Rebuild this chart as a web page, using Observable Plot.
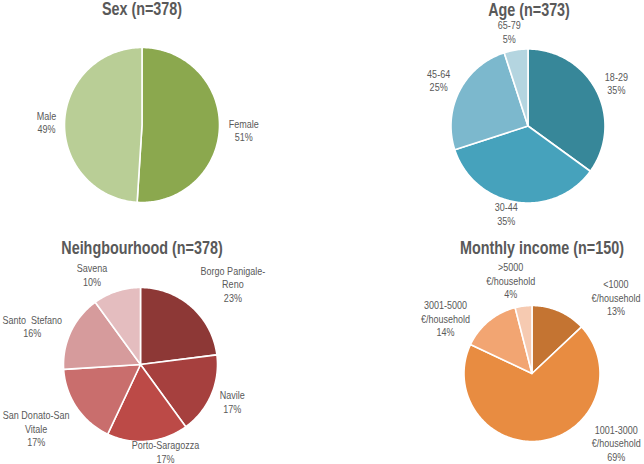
<!DOCTYPE html>
<html>
<head>
<meta charset="utf-8">
<script src="https://cdn.jsdelivr.net/npm/d3@7"></script>
<script src="https://cdn.jsdelivr.net/npm/@observablehq/plot@0.6"></script>
<style>
  html, body { margin: 0; padding: 0; background: #fff; }
  #root { position: relative; width: 644px; height: 464px; overflow: hidden; }
  .panel { position: absolute; width: 322px; height: 232px; }
  .panel svg { overflow: visible; }
  .title { position: absolute; font-family: "Liberation Sans", Arial, sans-serif;
           font-weight: bold; font-size: 17.5px; color: #595959; white-space: nowrap;
           transform: translateX(-50%) scaleX(0.82); line-height: 1; }
</style>
</head>
<body>
<div id="root"></div>
<script>
// ---------------- DATA ----------------
const sexCategories = ["Female", "Male"];
const sexValues = [51, 49];

const ageCategories = ["18-29", "30-44", "45-64", "65-79"];
const ageValues = [35, 35, 25, 5];

const hoodCategories = ["Borgo Panigale-\nReno", "Navile", "Porto-Saragozza", "San Donato-San\nVitale", "Santo  Stefano", "Savena"];
const hoodValues = [23, 17, 17, 17, 16, 10];

const incomeCategories = ["<1000\n€/household", "1001-3000\n€/household", "3001-5000\n€/household", ">5000\n€/household"];
const incomeValues = [13, 69, 14, 4];

const titles = ["Sex (n=378)", "Age (n=373)", "Neihgbourhood (n=378)", "Monthly income (n=150)"];

// ---------------- STYLE / LAYOUT ----------------
const sexColors = ["#8BA84E", "#B9CE96"];
const ageColors = ["#378799", "#46A2BC", "#7CB8CD", "#B4D5E0"];
const hoodColors = ["#8D3836", "#A6403E", "#BC4A47", "#C96E6D", "#D69B9C", "#E4BDBF"];
const incomeColors = ["#C47432", "#E88C41", "#F2A572", "#F6CAB1"];

const FONT = '"Liberation Sans", Arial, sans-serif';
const LABEL_SIZE = 11;
const LINE_H = 13.5;
const NARROW = 0.82; // horizontal compression to mimic a narrow face

const panels = [
  {cats: sexCategories, vals: sexValues, colors: sexColors, left: 0, top: 0, cx: 141.5, cy: 124.5, r: 77.5,
   title: titles[0], tx: 142, ty: 1, nudge: [[3, 2], [-2, 0]]},
  {cats: ageCategories, vals: ageValues, colors: ageColors, left: 322, top: 0, cx: 205.5, cy: 125.5, r: 77,
   title: titles[1], tx: 207, ty: 2, nudge: [[4, 1], [-7, -8], [-5, -2], [-4, 1]]},
  {cats: hoodCategories, vals: hoodValues, colors: hoodColors, left: 0, top: 232, cx: 140, cy: 132, r: 77,
   title: titles[2], tx: 142, ty: 8, nudge: [[16, -3], [4, -1], [14, -9], [-8, 6], [-6, 3], [-18, 2]]},
  {cats: incomeCategories, vals: incomeValues, colors: incomeColors, left: 322, top: 232, cx: 209.5, cy: 141, r: 68,
   title: titles[3], tx: 220, ty: 8, nudge: [[45, 10], [69, -23], [-24, 17], [-9, 0]]}
];

const ctx = document.createElement("canvas").getContext("2d");
ctx.font = `${LABEL_SIZE}px ${FONT}`;

const root = document.getElementById("root");
const W = 322, H = 232, GAP = 1.08;

for (const p of panels) {
  const total = d3.sum(p.vals);
  const arcs = d3.pie().sort(null).value(d => d)(p.vals);
  const poly = [];
  arcs.forEach((a, i) => {
    poly.push({i, x: 0, y: 0});
    const n = Math.max(2, Math.ceil((a.endAngle - a.startAngle) / (Math.PI / 180)));
    for (let k = 0; k <= n; k++) {
      const t = a.startAngle + (a.endAngle - a.startAngle) * k / n;
      poly.push({i, x: Math.sin(t), y: Math.cos(t)});
    }
  });
  const labels = arcs.map((a, i) => {
    const text = p.cats[i] + "\n" + Math.round(p.vals[i] / total * 100) + "%";
    const lines = text.split("\n");
    const w = d3.max(lines, l => ctx.measureText(l).width) * NARROW;
    const h = lines.length * LINE_H;
    const th = (a.startAngle + a.endAngle) / 2;
    const [nx, ny] = p.nudge[i] || [0, 0];
    const px = Math.sin(th) * (p.r * GAP + w / 2) + nx;
    const py = -Math.cos(th) * (p.r * GAP + h / 2) + ny; // screen coords, down positive
    return {text, x: px / p.r, y: -py / p.r};
  });

  const chart = Plot.plot({
    width: W, height: H,
    margin: 0,
    x: {domain: [-p.cx / p.r, (W - p.cx) / p.r], axis: null},
    y: {domain: [-(H - p.cy) / p.r, p.cy / p.r], axis: null},
    color: {type: "identity"},
    style: {fontFamily: FONT, background: "transparent", overflow: "visible"},
    marks: [
      Plot.line(poly, {x: "x", y: "y", z: "i", fill: d => p.colors[d.i], stroke: "white", strokeWidth: 1.6,
                       strokeLinejoin: "round", curve: "linear-closed"}),
      Plot.text(labels, {x: "x", y: "y", text: "text", fill: "#595959", fontSize: LABEL_SIZE,
                         lineHeight: LINE_H / LABEL_SIZE, textAnchor: "middle", fontFamily: FONT})
    ]
  });

  // compress label glyphs horizontally around each label's anchor
  chart.querySelectorAll('g[aria-label="text"] text').forEach(t => {
    const tr = t.getAttribute("transform");
    if (tr) {
      t.setAttribute("transform", tr + ` scale(${NARROW},1)`);
    } else {
      const x = +t.getAttribute("x") || 0;
      t.setAttribute("transform", `translate(${x},0) scale(${NARROW},1) translate(${-x},0)`);
    }
  });

  const div = document.createElement("div");
  div.className = "panel";
  div.style.left = p.left + "px";
  div.style.top = p.top + "px";
  div.appendChild(chart);
  const t = document.createElement("div");
  t.className = "title";
  t.textContent = p.title;
  t.style.left = p.tx + "px";
  t.style.top = p.ty + "px";
  div.appendChild(t);
  root.appendChild(div);
}
</script>
</body>
</html>
